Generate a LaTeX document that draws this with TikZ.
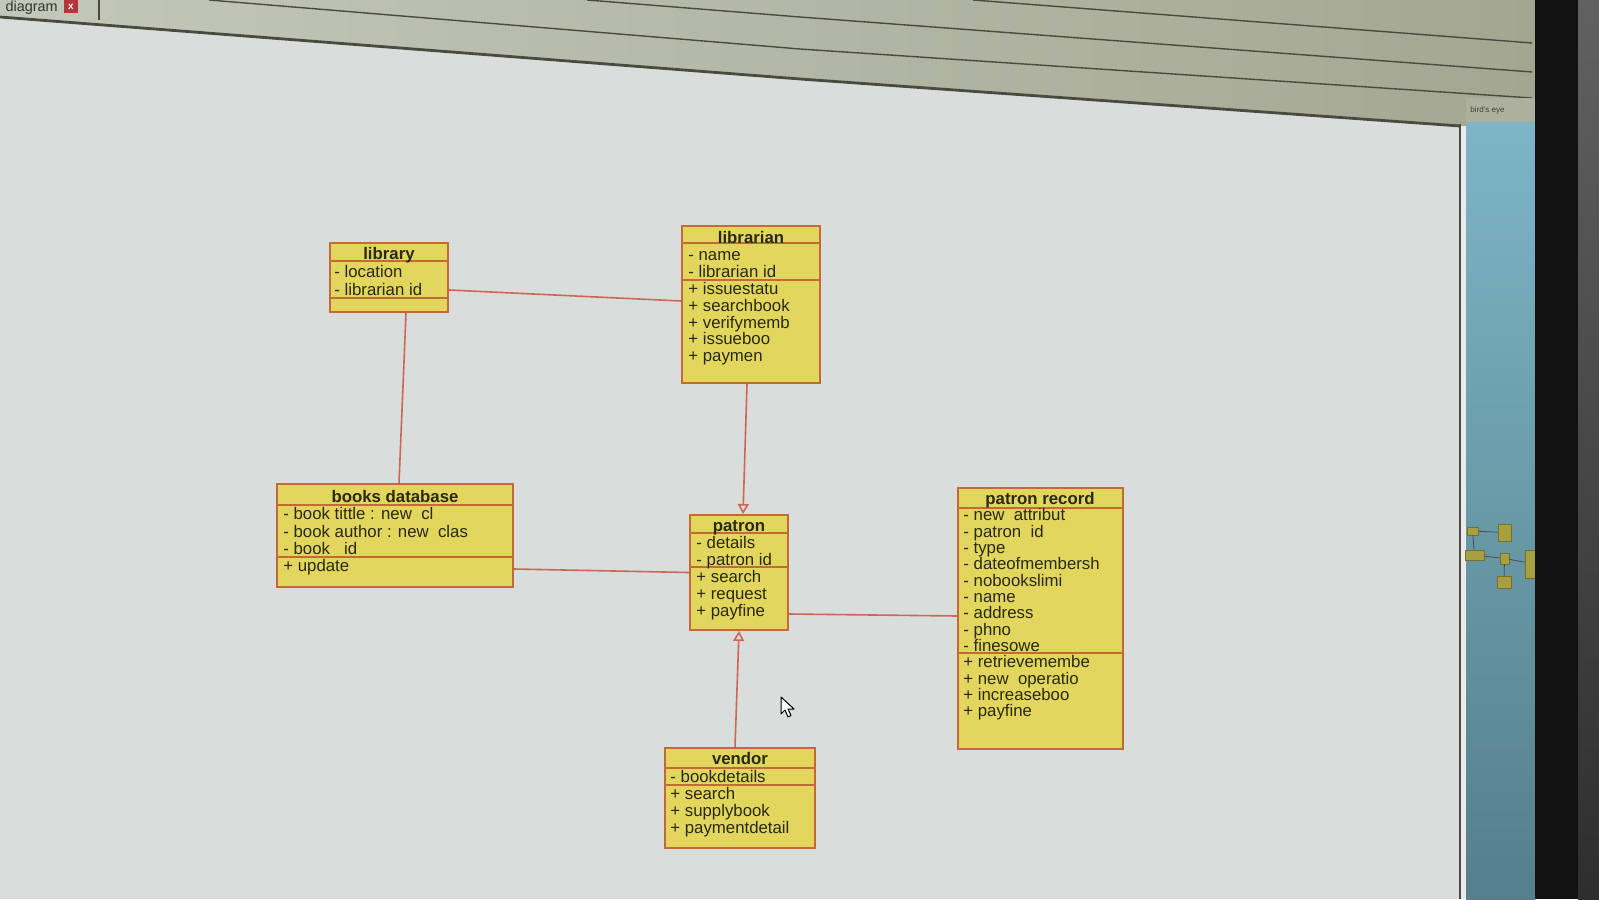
\documentclass[tikz,border=0pt]{standalone}
\usepackage{fontspec}
\setmainfont{Liberation Sans}
\usetikzlibrary{fit,arrows.meta}
\definecolor{canvasbg}{HTML}{D9DEDD}
\definecolor{toolL}{HTML}{C4C8BA}
\definecolor{toolR}{HTML}{A3A792}
\definecolor{chromeline}{HTML}{4A4A40}
\definecolor{boxfill}{HTML}{E2D65C}
\definecolor{boxline}{HTML}{C46A3A}
\definecolor{conn}{HTML}{CF6655}
\definecolor{txt}{HTML}{2A2914}
\definecolor{panelT}{HTML}{7DB5C6}
\definecolor{panelB}{HTML}{557F8A}
\definecolor{bezel}{HTML}{121212}
\definecolor{xred}{HTML}{B8333A}
\definecolor{minibox}{HTML}{A8A040}
\newcommand{\umlmember}{\fontsize{8.4}{9}\selectfont}
\newcommand{\umltitle}{\fontsize{8.4}{9}\selectfont\bfseries}
\begin{document}
\begin{tikzpicture}[x=0.5pt,y=-0.5pt,
  cls/.style={draw=boxline, fill=boxfill, line width=1pt, inner sep=0pt},
  sepline/.style={draw=boxline, line width=0.9pt},
  member/.style={anchor=west, inner sep=0pt, font=\umlmember, text=txt, text height=6pt, text depth=1.6pt},
  ctitle/.style={anchor=center, inner sep=0pt, font=\umltitle, text=txt, text height=6pt, text depth=1.6pt},
  assoc/.style={draw=conn, line width=0.8pt},
  gen/.style={assoc, -{Triangle[open, length=5pt, width=5.5pt]}},
  mini/.style={fill=minibox, draw=minibox!70!black, line width=0.3pt, inner sep=0pt},
  miniline/.style={draw=black!70, line width=0.4pt},
]
\useasboundingbox (0,0) rectangle (1599,899);
% ---- screen chrome ----
\fill[canvasbg] (0,0) rectangle (1599,899);
\shade[left color=toolL, right color=toolR] (0,0) -- (1535,0) -- (1535,126) -- (1459,126) -- (800,79) -- (0,17) -- cycle;
\draw[chromeline, line width=0.7pt] (209,0) -- (800,49) -- (1532,98);
\draw[chromeline, line width=0.7pt] (587,0) -- (800,17) -- (1532,72);
\draw[chromeline, line width=0.7pt] (973,0) -- (1532,43);
\draw[chromeline, line width=1.4pt] (0,17) -- (800,79) -- (1460,126);
\draw[chromeline, line width=0.8pt] (99,0) -- (99,20);
\node[anchor=east, inner sep=0pt, font=\fontsize{7.2}{8}\selectfont, text=black!80] (tabname) at (58,8) {diagram};
\node[fill=xred, text=white, inner sep=0pt, minimum width=7pt, minimum height=6.5pt, font=\fontsize{5}{5}\selectfont\bfseries] (tabclose) at (71,7) {x};
% right panel
\fill[black!8] (1461,126) rectangle (1466,899);
\draw[chromeline, line width=0.8pt] (1460,124) -- (1460,899);
\fill[toolR!90!white] (1466,98) rectangle (1535,122);
\node[anchor=west, inner sep=0pt, font=\fontsize{4}{4}\selectfont, text=black!75] (birdseye) at (1470,110) {bird's eye};
\shade[top color=panelT, bottom color=panelB] (1466,122) rectangle (1535,899);
\node[mini, fit={(1467,527) (1478,535)}] (m1) {};
\node[mini, fit={(1498,524) (1511,541)}] (m2) {};
\node[mini, fit={(1465,550) (1484,560)}] (m3) {};
\node[mini, fit={(1500,553) (1509,564)}] (m4) {};
\node[mini, fit={(1525,550) (1545,578)}] (m5) {};
\node[mini, fit={(1497,576) (1511,588)}] (m6) {};
\draw[miniline] (m1) -- (m2);
\draw[miniline] (m1) -- (m3);
\draw[miniline] (m3) -- (m4);
\draw[miniline] (m4) -- (m5);
\draw[miniline] (m4) -- (m6);
\fill[bezel] (1535,0) rectangle (1599,899);
\shade[top color=black!62, bottom color=black!82] (1578,0) rectangle (1599,899);
% cursor
\draw[fill=white, draw=black, line width=0.5pt, line join=round] (781,697) -- ++(0,17) -- ++(4,-4) -- ++(3,7) -- ++(3,-1.5) -- ++(-3,-6.5) -- ++(6,0) -- cycle;
% ---- library ----
\node[cls, fit={(330,243) (448,312)}] (library) {};
\draw[sepline] (330,261) -- (448,261);
\draw[sepline] (330,298) -- (448,298);
\node[ctitle] (library-t) at (389,255) {library};
\foreach [count=\i] \t in {- location, - librarian id}
  \node[member] (library-\i) at (334,{273+18*(\i-1)}) {\t};
% ---- librarian ----
\node[cls, fit={(682,226) (820,383)}] (librarian) {};
\draw[sepline] (682,243) -- (820,243);
\draw[sepline] (682,280) -- (820,280);
\node[ctitle] (librarian-t) at (751,239) {librarian};
\foreach [count=\i] \t in {- name, - librarian id, + issuestatu, + searchbook, + verifymemb, + issueboo, + paymen}
  \node[member] (librarian-\i) at (688,{256.5+16.8*(\i-1)}) {\t};
% ---- books database ----
\node[cls, fit={(277,484) (513,587)}] (books) {};
\draw[sepline] (277,505) -- (513,505);
\draw[sepline] (277,557) -- (513,557);
\node[ctitle] (books-t) at (395,498) {books database};
\foreach [count=\i] \t in {- book tittle : new\ \ cl, - book author : new\ \ clas, - book\ \ \ id, + update}
  \node[member] (books-\i) at (283,{515.5+17.3*(\i-1)}) {\t};
% ---- patron ----
\node[cls, fit={(690,515) (788,630)}] (patron) {};
\draw[sepline] (690,533) -- (788,533);
\draw[sepline] (690,567) -- (788,567);
\node[ctitle] (patron-t) at (739,527) {patron};
\foreach [count=\i] \t in {- details, - patron id, + search, + request, + payfine}
  \node[member] (patron-\i) at (696,{544.5+17*(\i-1)}) {\t};
% ---- patron record ----
\node[cls, fit={(958,488) (1123,749)}] (record) {};
\draw[sepline] (958,508) -- (1123,508);
\draw[sepline] (958,653) -- (1123,653);
\node[ctitle] (record-t) at (1040,500) {patron record};
\foreach [count=\i] \t in {- new\ \ attribut, - patron\ \ id, - type, - dateofmembersh, - nobookslimi, - name, - address, - phno, - finesowe, + retrievemembe, + new\ \ operatio, + increaseboo, + payfine}
  \node[member] (record-\i) at (963,{516.5+16.33*(\i-1)}) {\t};
% ---- vendor ----
\node[cls, fit={(665,748) (815,848)}] (vendor) {};
\draw[sepline] (665,768) -- (815,768);
\draw[sepline] (665,785) -- (815,785);
\node[ctitle] (vendor-t) at (740,760.5) {vendor};
\foreach [count=\i] \t in {- bookdetails, + search, + supplybook, + paymentdetail}
  \node[member] (vendor-\i) at (670,{778.5+17*(\i-1)}) {\t};
% ---- connectors ----
\draw[assoc] ([yshift=-6.25pt]library.east) -- ([yshift=1.75pt]librarian.west);
\draw[assoc] ([xshift=8.5pt]library.south) -- ([xshift=2pt]books.north);
\draw[gen] ([xshift=-2pt]librarian.south) -- ([xshift=2pt]patron.north);
\draw[assoc] ([yshift=-16.75pt]books.east) -- (patron.west);
\draw[assoc] ([yshift=-20.75pt]patron.east) -- ([yshift=1.25pt]record.west);
\draw[gen] ([xshift=-2.5pt]vendor.north) -- (patron.south);
\end{tikzpicture}
\end{document}
